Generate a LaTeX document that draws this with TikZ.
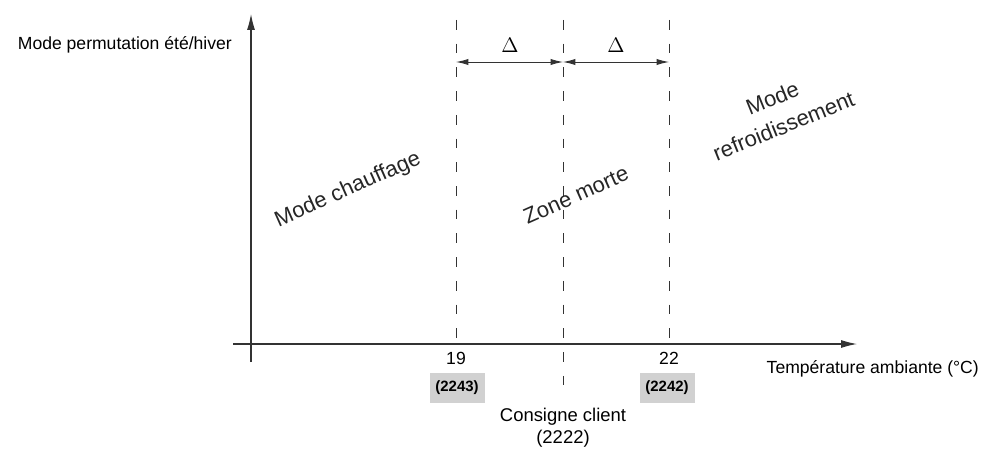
\documentclass[tikz,border=0pt]{standalone}
\usepackage{fontspec}
\setmainfont{Liberation Sans}
\usetikzlibrary{arrows.meta}

\begin{document}
\begin{tikzpicture}[x=0.02cm,y=0.02cm,
  axis/.style={draw=black!80,line width=0.6pt,-{Latex[length=9pt,width=4.5pt]}},
  guide/.style={draw=black!80,line width=0.5pt,dash pattern=on 5.5pt off 8pt},
  span/.style={draw=black!80,line width=0.5pt,{Latex[length=7pt,width=3.5pt]}-{Latex[length=7pt,width=3.5pt]}},
  codebox/.style={fill=black!18,font=\bfseries\fontsize{8.5}{10}\selectfont,minimum width=1.1cm,minimum height=0.6cm,inner sep=0pt},
  zone/.style={font=\fontsize{12.5}{17}\selectfont,color=black!85,align=center}]
  \useasboundingbox (0,0) rectangle (987,450);
  \coordinate (ybot) at (251,88);
  \coordinate (ytop) at (251,436);
  \coordinate (xleft) at (233,106);
  \coordinate (xright) at (857,106);
  \draw[axis] (ybot) -- (ytop);
  \draw[axis] (xleft) -- (xright);
  \foreach \n/\x/\b in {1/456/106,2/563/55,3/669/106} {
    \coordinate (t\n) at (\x,430);
    \coordinate (b\n) at (\x,\b);
    \coordinate (m\n) at (\x,388);
    \draw[guide] (t\n) -- (b\n);
  }
  \draw[span] (m1) -- (m2);
  \draw[span] (m2) -- (m3);
  \node[font=\fontsize{12}{14}\selectfont] (d1) at (510,405) {$\Delta$};
  \node[font=\fontsize{12}{14}\selectfont] (d2) at (616,405) {$\Delta$};
  \node[font=\fontsize{10}{12}\selectfont,anchor=east] (ylab) at (238,405) {Mode permutation été/hiver};
  \node[font=\fontsize{10}{12}\selectfont,anchor=east] (xlab) at (985,81) {Température ambiante (°C)};
  \node[font=\fontsize{10}{12}\selectfont] (v19) at (456,92) {19};
  \node[font=\fontsize{10}{12}\selectfont] (v22) at (669,92) {22};
  \node[codebox] (c2243) at (457,62) {(2243)};
  \node[codebox] (c2242) at (667,62) {(2242)};
  \node[font=\fontsize{10.5}{12.5}\selectfont,align=center] (cons) at (563,22) {Consigne client\\(2222)};
  \node[zone,rotate=24] (heat) at (348,260) {Mode chauffage};
  \node[zone,rotate=24] (dead) at (576,255) {Zone morte};
  \node[zone,rotate=22] (cool) at (778,338) {Mode\\refroidissement};
\end{tikzpicture}
\end{document}
